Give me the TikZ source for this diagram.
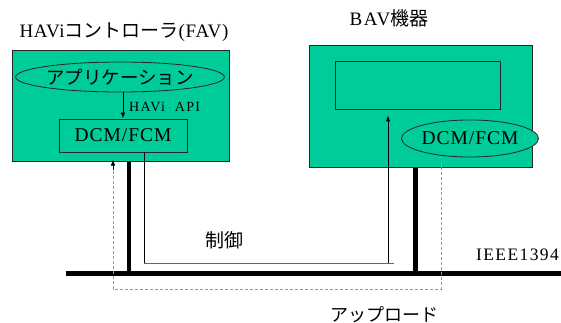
\documentclass[tikz,border=0pt]{standalone}
\usepackage{fontspec}
\setmainfont{Liberation Serif}
\newfontfamily\jp{Noto Sans CJK JP}
\usetikzlibrary{arrows.meta,shapes.geometric,calc}
\definecolor{boxgreen}{RGB}{0,204,153}
\begin{document}
\begin{tikzpicture}[x=1pt,y=-1pt,
  box/.style={draw=black!85,line width=1pt,fill=boxgreen,inner sep=0pt},
  inbox/.style={draw=black!85,line width=0.8pt,fill=boxgreen,inner sep=0pt},
  oval/.style={ellipse,draw=black!85,line width=0.8pt,fill=boxgreen,inner sep=0pt},
  lbl/.style={inner sep=0pt},
  thick bar/.style={line width=4.5pt},
  ctl/.style={line width=0.8pt},
  tip/.style={-{Latex[length=6pt,width=4.5pt]}},
  upl/.style={draw=black!40,line width=0.6pt,dash pattern=on 3pt off 2pt}
]
\useasboundingbox (0,0) rectangle (561,323);
% titles
\node[lbl,font=\fontsize{19}{22}\selectfont] (t1) at (124,32)
  {\addfontfeature{LetterSpace=4}HAVi{\jp\addfontfeature{LetterSpace=0}コントローラ}(FAV)};
\node[lbl,font=\fontsize{19}{22}\selectfont] (t2) at (389,18)
  {\addfontfeature{LetterSpace=8}BAV{\jp\addfontfeature{LetterSpace=0}機器}};
% left device
\node[box,minimum width=217pt,minimum height=110pt] (lbox) at (120.5,106) {};
\node[oval,minimum width=175pt,minimum height=30pt] (app) at (120,77)
  {\jp\fontsize{18.5}{20}\selectfont アプリケーション};
\node[inbox,minimum width=128pt,minimum height=33pt] (ldcm) at (123,135.5)
  {\fontsize{19.5}{22}\selectfont\addfontfeature{LetterSpace=5}DCM/FCM};
\node[lbl,font=\fontsize{14}{16}\selectfont,anchor=west] (api) at (129,107)
  {\addfontfeature{LetterSpace=10}HAVi\ \ API};
\coordinate (a1) at ($(app.south)+(3,0)$);
\coordinate (a2) at (a1 |- ldcm.north);
\draw[ctl,tip] (a1) -- (a2);
% right device
\node[box,minimum width=223pt,minimum height=121pt] (rbox) at (420.5,106.5) {};
\node[inbox,minimum width=165pt,minimum height=48pt] (rin) at (417.5,85) {};
\node[oval,minimum width=122pt,minimum height=37pt] (rdcm) at (470,138.5)
  {\fontsize{19.5}{22}\selectfont\addfontfeature{LetterSpace=5}DCM/FCM};
% bus
\coordinate (busl) at (66,273.5);
\coordinate (busr) at (561,273.5);
\draw[line width=5pt] (busl) -- (busr);
\coordinate (lb1) at (129,0 |- lbox.south);
\coordinate (lb2) at (lb1 |- busl);
\coordinate (rb1) at (415.5,0 |- rbox.south);
\coordinate (rb2) at (rb1 |- busl);
\draw[thick bar] (lb1) -- (lb2);
\draw[thick bar] (rb1) -- (rb2);
% control path
\coordinate (c1) at (144,263);
\coordinate (c0) at (c1 |- ldcm.south);
\coordinate (c2) at (394,263);
\coordinate (c3) at (388,263);
\coordinate (c4) at ($(c3 |- rin.south)+(0,6)$);
\draw[ctl] (c0) -- (c1);
\draw[line width=0.8pt,black!60] (c1) -- (c2);
\draw[ctl,tip] (c3) -- (c4);
% upload path
\coordinate (u1) at (441,162);
\coordinate (u2) at (441,289);
\coordinate (u3) at (113,289);
\coordinate (u4) at (u3 |- lbox.south);
\coordinate (u5) at ($(u4)+(0,8)$);
\coordinate (u6) at ($(u4)+(0,-2)$);
\draw[upl] (u1) -- (u2) -- (u3) -- (u4);
\draw[black,tip,line width=0.6pt] (u5) -- (u6);
% labels
\node[lbl,font=\jp\fontsize{19}{22}\selectfont] (ctrl) at (224,240) {制御};
\node[lbl,font=\fontsize{17.5}{19}\selectfont,anchor=east] (ieee) at (559,255)
  {\addfontfeature{LetterSpace=8}IEEE1394};
\node[lbl,font=\jp\fontsize{18}{20}\selectfont] (up) at (384,315) {アップロード};
\end{tikzpicture}
\end{document}
